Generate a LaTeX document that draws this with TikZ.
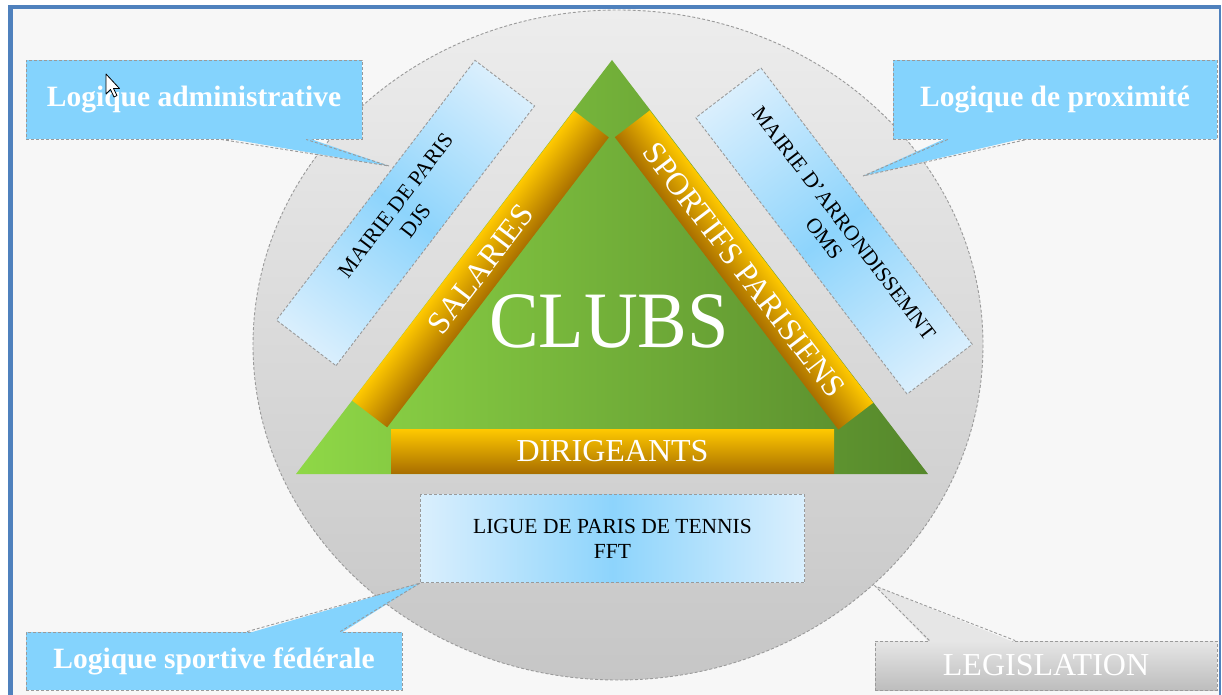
\documentclass[tikz,border=0pt]{standalone}
\usepackage{fontspec}
\setmainfont{Liberation Serif}
\usepackage{tikz}
\usetikzlibrary{calc, positioning}

\definecolor{frameblue}{HTML}{4F81BD}
\definecolor{paper}{HTML}{F7F7F7}
\definecolor{ringtop}{HTML}{EDEDED}
\definecolor{ringbottom}{HTML}{C6C6C6}
\definecolor{leafleft}{HTML}{8FD847}
\definecolor{leafright}{HTML}{55872B}
\definecolor{goldtop}{HTML}{FFC900}
\definecolor{goldbottom}{HTML}{A96F00}
\definecolor{skyedge}{HTML}{DAEFFD}
\definecolor{skymid}{HTML}{8DD4FC}
\definecolor{callblue}{HTML}{84D3FD}
\definecolor{greytop}{HTML}{E6E6E6}
\definecolor{greybottom}{HTML}{BDBDBD}
\definecolor{dashgrey}{HTML}{9A9A9A}

\begin{document}
\begin{tikzpicture}[
  x=1pt, y=-1pt,
  dashline/.style = {draw=dashgrey, line width=0.9pt, dash pattern=on 3pt off 2pt},
  band/.style = {top color=goldtop, bottom color=goldbottom, text=white, inner sep=0pt, font=\fontsize{32}{36}\selectfont},
  bluebox/.style = {dashline, left color=skyedge, right color=skyedge, middle color=skymid, align=center, inner sep=0pt, font=\fontsize{21.5}{25}\selectfont},
  callbox/.style = {dashline, fill=callblue, text=white, inner sep=0pt, font=\bfseries\fontsize{29.5}{32}\selectfont}
]
  \useasboundingbox (0,0) rectangle (1222,695);

  % Frame
  \fill[white] (0,0) rectangle (1222,695);
  \fill[paper] (10,7) rectangle (1220,695);
  \draw[frameblue, line width=4.5pt] (10.5,695) -- (10.5,7) -- (1221,7);
  \draw[frameblue, line width=1.5pt] (1220,7) -- (1220,695);

  % Ring
  \draw[dashline, top color=ringtop, bottom color=ringbottom] (618,345) ellipse [x radius=365, y radius=335];

  % Triangle
  \coordinate (apex) at (612,60);
  \coordinate (leftfoot) at (296,474);
  \coordinate (rightfoot) at (928,474);
  \shade[left color=leafleft, right color=leafright] (apex) -- (leftfoot) -- (rightfoot) -- cycle;

  % Sides of the triangle
  \node[band, minimum width=443, minimum height=44] (dirigeants) at (612.5,451) {DIRIGEANTS};
  \begin{scope}[transform canvas={rotate around={52.6:(480.5,269)}}]
    \node[band, minimum width=365, minimum height=44] (salaries) at (480.5,269) {SALARIES};
  \end{scope}
  \begin{scope}[transform canvas={rotate around={-52.6:(744,270)}}]
    \node[band, minimum width=368, minimum height=44] (sportifs) at (744,270) {SPORTIFS PARISIENS};
  \end{scope}

  \node[white, inner sep=0pt, xscale=0.93, font=\fontsize{80}{80}\selectfont] (clubs) at (609,321) {CLUBS};

  % Partners
  \begin{scope}[transform canvas={rotate around={52.6:(405.5,213)}}]
    \node[bluebox, minimum width=327, minimum height=75] (paris) at (405.5,213) {MAIRIE DE PARIS\\DJS};
  \end{scope}
  \begin{scope}[transform canvas={rotate around={-52.6:(834,231)}}]
    \node[bluebox, minimum width=348, minimum height=82] (arrond) at (834,231) {MAIRIE D'ARRONDISSEMNT\\OMS};
  \end{scope}
  \node[bluebox, minimum width=384, minimum height=88, below=21pt of dirigeants] (ligue) {LIGUE DE PARIS DE TENNIS\\FFT};

  % Callouts
  \coordinate (admintip) at (389,166);
  \node[callbox, minimum width=336, minimum height=79] (admin) at (194,99.5) {Logique administrative};
  \fill[callblue] ($(admin.south west)!.58!(admin.south east)+(0,-2)$) -- (admintip) -- ($(admin.south west)!.833!(admin.south east)+(0,-2)$) -- cycle;
  \draw[dashline] ($(admin.south west)!.58!(admin.south east)$) -- (admintip) -- ($(admin.south west)!.833!(admin.south east)$);

  \coordinate (proxtip) at (863,176);
  \node[callbox, minimum width=324, minimum height=79] (prox) at (1055,99.5) {Logique de proximité};
  \fill[callblue] ($(prox.south west)!.17!(prox.south east)+(0,-2)$) -- (proxtip) -- ($(prox.south west)!.414!(prox.south east)+(0,-2)$) -- cycle;
  \draw[dashline] ($(prox.south west)!.17!(prox.south east)$) -- (proxtip) -- ($(prox.south west)!.414!(prox.south east)$);

  \node[callbox, minimum width=376, minimum height=58] (sport) at (214,661) {Logique sportive fédérale};
  \fill[callblue] ($(sport.north west)!.588!(sport.north east)+(0,2)$) -- (ligue.south west) -- ($(sport.north west)!.835!(sport.north east)+(0,2)$) -- cycle;
  \draw[dashline] ($(sport.north west)!.588!(sport.north east)$) -- (ligue.south west) -- ($(sport.north west)!.835!(sport.north east)$);

  \coordinate (lawtip) at (875,586);
  \node[dashline, top color=greytop, bottom color=greybottom, text=white, inner sep=0pt, minimum width=342, minimum height=49, font=\fontsize{32}{34}\selectfont] (law) at (1046,665.5) {LEGISLATION};
  \fill[greytop] ($(law.north west)!.16!(law.north east)+(0,2)$) -- (lawtip) -- ($(law.north west)!.41!(law.north east)+(0,2)$) -- cycle;
  \draw[dashline] ($(law.north west)!.16!(law.north east)$) -- (lawtip) -- ($(law.north west)!.41!(law.north east)$);

  % Pointer
  \draw[black, fill=white, line width=0.8pt, line join=round] (106,74) -- (106,94) -- (110.5,89.5) -- (114,97) -- (117,95.5) -- (113.5,88.5) -- (119.5,88.5) -- cycle;

\end{tikzpicture}
\end{document}
